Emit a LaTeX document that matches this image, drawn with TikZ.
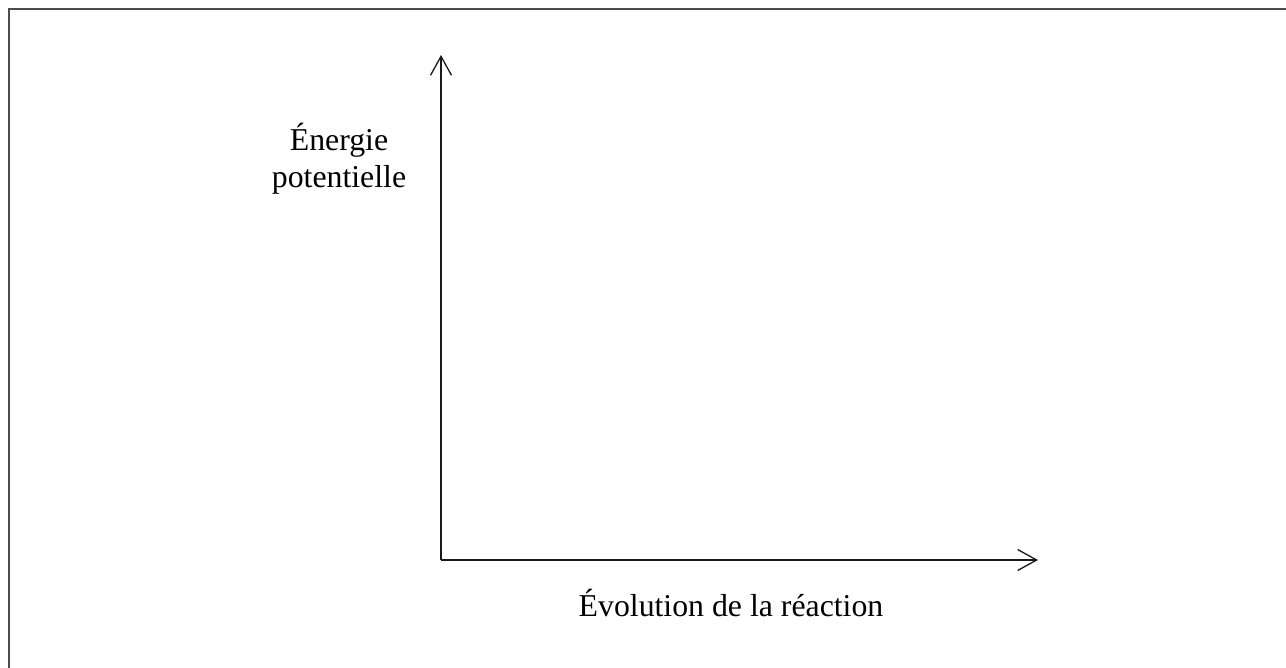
\documentclass[tikz,border=0pt]{standalone}
\usepackage{fontspec}
\setmainfont{Liberation Serif}
\usetikzlibrary{arrows.meta}
\begin{document}
\begin{tikzpicture}[x=1pt,y=-1pt,
  axis/.style={line width=1.3pt, draw=black!90, -{Straight Barb[length=19pt,width=21pt,line width=1.3pt]}},
  lbl/.style={inner sep=0pt, anchor=base, font=\fontsize{31.8}{36}\selectfont, text=black}]
\useasboundingbox (0,0) rectangle (1286,668);
\clip (0,0) rectangle (1286,668);
\fill[white] (0,0) rectangle (1286,668);
\draw[line width=2pt, draw=black!70] (8.5,9.5) rectangle (1300,700);
\coordinate (o) at (441,560);
\coordinate (ytip) at (441,55);
\coordinate (xtip) at (1038,560);
\draw[axis] (o) -- (ytip);
\draw[axis] (o) -- (xtip);
\node[lbl] (e1) at (339,151) {Énergie};
\node[lbl] (e2) at (339,188) {potentielle};
\node[lbl] (ev) at (731,616) {Évolution de la réaction};
\end{tikzpicture}
\end{document}
